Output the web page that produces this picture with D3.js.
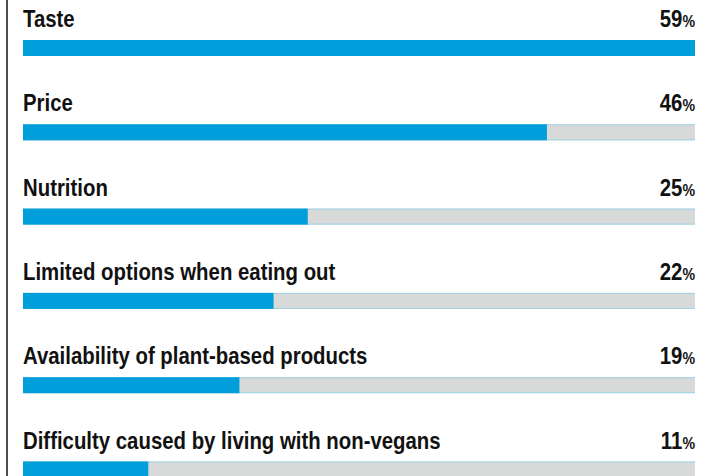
<!DOCTYPE html>
<html>
<head>
<meta charset="utf-8">
<script src="https://cdn.jsdelivr.net/npm/d3@7"></script>
<style>
  html, body { margin: 0; padding: 0; background: #fff; }
  svg { display: block; }
  text { font-family: "Liberation Sans", Arial, sans-serif; font-weight: bold; fill: #111; }
</style>
</head>
<body>
<div id="chart"></div>
<script>
const categories = [
  'Taste',
  'Price',
  'Nutrition',
  'Limited options when eating out',
  'Availability of plant-based products',
  'Difficulty caused by living with non-vegans'
];
const values = [59, 46, 25, 22, 19, 11];

const width = 716;
const height = 476;
const margin = { left: 23, right: 21 };
const barHeight = 16;
const rowStep = 84.3;
const squeeze = 0.886; // approximates a condensed face

const svg = d3.select('#chart')
  .append('svg')
  .attr('width', width)
  .attr('height', height);

// left rule
svg.append('line')
  .attr('x1', 7).attr('x2', 7)
  .attr('y1', 0).attr('y2', height)
  .attr('stroke', '#111')
  .attr('stroke-width', 1.5);

const xScale = d3.scaleLinear()
  .domain([0, d3.max(values)])
  .range([margin.left, width - margin.right]);

const yScale = d3.scaleBand()
  .domain(categories)
  .range([0, rowStep * categories.length])
  .paddingInner(0);

const rows = svg.selectAll('.row')
  .data(categories.map((c, i) => ({ label: c, value: values[i] })))
  .enter()
  .append('g')
  .attr('class', 'row')
  .attr('transform', d => `translate(0,${yScale(d.label)})`);

rows.append('text')
  .attr('transform', `translate(${margin.left},27) scale(${squeeze},1)`)
  .style('font-size', '23px')
  .text(d => d.label);

const pct = rows.append('text')
  .attr('transform', `translate(${width - margin.right},27) scale(${squeeze},1)`)
  .attr('text-anchor', 'end')
  .style('font-size', '23px');
pct.append('tspan').text(d => d.value);
pct.append('tspan').style('font-size', '16px').text('%');

// track
rows.append('rect')
  .attr('x', xScale(0))
  .attr('y', 40)
  .attr('width', xScale(d3.max(values)) - xScale(0))
  .attr('height', barHeight)
  .attr('fill', '#d8d9d9');

rows.append('line')
  .attr('x1', xScale(0)).attr('x2', xScale(d3.max(values)))
  .attr('y1', 40.5).attr('y2', 40.5)
  .attr('stroke', '#9fd3e6');

rows.append('line')
  .attr('x1', xScale(0)).attr('x2', xScale(d3.max(values)))
  .attr('y1', 40 + barHeight - 0.5).attr('y2', 40 + barHeight - 0.5)
  .attr('stroke', '#9fd3e6');

rows.append('rect')
  .attr('x', xScale(0))
  .attr('y', 40)
  .attr('width', d => xScale(d.value) - xScale(0))
  .attr('height', barHeight)
  .attr('fill', '#009fdb');
</script>
</body>
</html>
